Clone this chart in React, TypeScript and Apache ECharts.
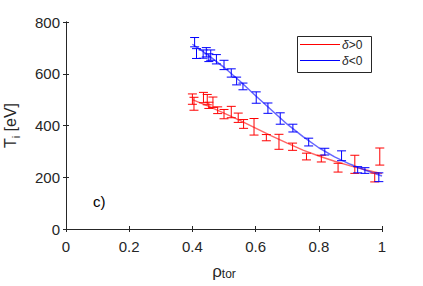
import React, { useEffect, useRef } from "react";
import * as echarts from "echarts";

const xTicks = [0, 0.2, 0.4, 0.6, 0.8, 1];
const yTicks = [0, 200, 400, 600, 800];

const seriesNames = ["δ>0", "δ<0"];

// δ>0 (red) measured points
const rhoPos = [0.400, 0.405, 0.435, 0.447, 0.452, 0.465, 0.480, 0.500, 0.523, 0.545, 0.562, 0.595, 0.634, 0.674, 0.717, 0.761, 0.808, 0.861, 0.914, 0.977, 0.993];
const tiPos = [502, 484, 508, 500, 478, 490, 459, 444, 452, 430, 406, 395, 353, 337, 318, 280, 272, 237, 250, 199, 280];
const errPos = [20, 25, 20, 20, 12, 20, 13, 18, 22, 18, 17, 32, 12, 29, 14, 13, 13, 17, 35, 17, 33];

// δ<0 (blue) measured points
const rhoNeg = [0.407, 0.413, 0.434, 0.444, 0.452, 0.458, 0.476, 0.500, 0.523, 0.540, 0.560, 0.602, 0.639, 0.678, 0.718, 0.768, 0.819, 0.872, 0.923, 0.946, 0.990];
const tiNeg = [722, 678, 676, 683, 662, 672, 656, 634, 603, 572, 551, 508, 467, 427, 390, 336, 299, 283, 229, 226, 200];
const errNeg = [18, 19, 16, 18, 15, 20, 18, 18, 16, 15, 13, 22, 20, 22, 15, 15, 13, 19, 12, 11, 17];

// fitted profiles
const fitRho = [0.40, 0.45, 0.50, 0.55, 0.60, 0.65, 0.70, 0.75, 0.80, 0.85, 0.90, 0.95, 1.00];
const fitPos = [500, 475, 448, 420, 390, 360, 332, 305, 282, 262, 244, 228, 214];
const fitNeg = [714, 672, 625, 572, 515, 460, 405, 357, 314, 279, 250, 226, 205];

const RED = "#ff0000";
const BLUE = "#0000ff";
const AX = "#262626";
const FONT = "Liberation Sans, Arial, sans-serif";

function errSeries(name: string, color: string, xs: number[], ys: number[], es: number[]) {
  return {
    type: "custom",
    name: name + " err",
    data: xs.map((x, i) => [x, ys[i], es[i]]),
    encode: { x: 0, y: 1 },
    z: 3,
    renderItem: (params: any, api: any) => {
      const x = api.value(0);
      const y = api.value(1);
      const e = api.value(2);
      const top = api.coord([x, y + e]);
      const bot = api.coord([x, y - e]);
      const hw = 4.5;
      const st = { stroke: color, lineWidth: 1 };
      return {
        type: "group",
        children: [
          { type: "line", shape: { x1: top[0], y1: top[1], x2: bot[0], y2: bot[1] }, style: st },
          { type: "line", shape: { x1: top[0] - hw, y1: top[1], x2: top[0] + hw, y2: top[1] }, style: st },
          { type: "line", shape: { x1: bot[0] - hw, y1: bot[1], x2: bot[0] + hw, y2: bot[1] }, style: st },
        ],
      };
    },
  };
}

function legendRow(y: number, color: string, sign: string) {
  return [
    { type: "line", shape: { x1: 300, y1: y, x2: 340, y2: y }, style: { stroke: color, lineWidth: 1 }, z: 10 },
    {
      type: "text",
      x: 342,
      y: y,
      z: 10,
      style: {
        text: "{i|δ}{n|" + sign + "0}",
        verticalAlign: "middle",
        rich: {
          i: { fontFamily: FONT, fontStyle: "italic", fontSize: 12, fill: AX },
          n: { fontFamily: FONT, fontSize: 12, fill: AX },
        },
      },
    },
  ];
}

export default function App() {
  const ref = useRef<HTMLDivElement>(null);
  useEffect(() => {
    if (!ref.current) return;
    const chart = echarts.init(ref.current, null, { renderer: "svg" });
    const axisCommon = {
      type: "value",
      axisLine: { show: true, lineStyle: { color: AX, width: 1 } },
      axisTick: { show: true, inside: true, length: 3, lineStyle: { color: AX } },
      splitLine: { show: false },
    };
    chart.setOption({
      animation: false,
      backgroundColor: "#ffffff",
      grid: { left: 66, right: 41, top: 22, bottom: 57, outerBoundsMode: "none", containLabel: false },
      xAxis: [
        {
          ...axisCommon,
          position: "bottom",
          min: 0,
          max: 1,
          interval: 0.2,
          axisLabel: { color: AX, fontSize: 15, fontFamily: FONT, margin: 10, formatter: (v: number) => String(Math.round(v * 10) / 10) },
          name: "{r|ρ}{s|tor}",
          nameLocation: "middle",
          nameGap: 33,
          nameTextStyle: {
            rich: {
              r: { fontFamily: FONT, fontSize: 17, color: AX, lineHeight: 18 },
              s: { fontFamily: FONT, fontSize: 12, color: AX, verticalAlign: "bottom", lineHeight: 18 },
            },
          },
        },
        {
          ...axisCommon,
          position: "top",
          min: 0,
          max: 1,
          interval: 0.2,
          axisLabel: { show: false },
        },
      ],
      yAxis: [
        {
          ...axisCommon,
          position: "left",
          min: 0,
          max: 800,
          interval: 200,
          axisLabel: { color: AX, fontSize: 15, fontFamily: FONT, margin: 6 },
          name: "{a|T}{s|i}{a| [eV]}",
          nameLocation: "middle",
          nameRotate: 90,
          nameGap: 45,
          nameTextStyle: {
            rich: {
              a: { fontFamily: FONT, fontSize: 16, color: AX, lineHeight: 22 },
              s: { fontFamily: FONT, fontSize: 11, color: AX, verticalAlign: "bottom", lineHeight: 22 },
            },
          },
        },
        {
          ...axisCommon,
          position: "right",
          min: 0,
          max: 800,
          interval: 200,
          axisLabel: { show: false },
        },
      ],
      graphic: [
        {
          type: "rect",
          z: 9,
          shape: { x: 297.5, y: 36.5, width: 74, height: 36 },
          style: { fill: "#ffffff", stroke: AX, lineWidth: 1 },
        },
        ...legendRow(44.5, RED, ">"),
        ...legendRow(60.5, BLUE, "<"),
        {
          type: "text",
          left: 93,
          top: 194,
          style: { text: "c)", fontFamily: FONT, fontSize: 15, fill: "#000000" },
        },
      ],
      series: [
        {
          type: "line",
          name: seriesNames[0],
          data: fitRho.map((x, i) => [x, fitPos[i]]),
          showSymbol: false,
          symbol: "none",
          color: RED,
          lineStyle: { color: RED, width: 1.5, opacity: 0.6 },
          z: 2,
        },
        {
          type: "line",
          name: seriesNames[1],
          data: fitRho.map((x, i) => [x, fitNeg[i]]),
          showSymbol: false,
          symbol: "none",
          color: BLUE,
          lineStyle: { color: BLUE, width: 1.5, opacity: 0.6 },
          z: 2,
        },
        errSeries(seriesNames[0], RED, rhoPos, tiPos, errPos),
        errSeries(seriesNames[1], BLUE, rhoNeg, tiNeg, errNeg),
      ],
    });
    return () => chart.dispose();
  }, []);
  return <div ref={ref} style={{ position: "fixed", left: 0, top: 0, width: 423, height: 286 }} />;
}
